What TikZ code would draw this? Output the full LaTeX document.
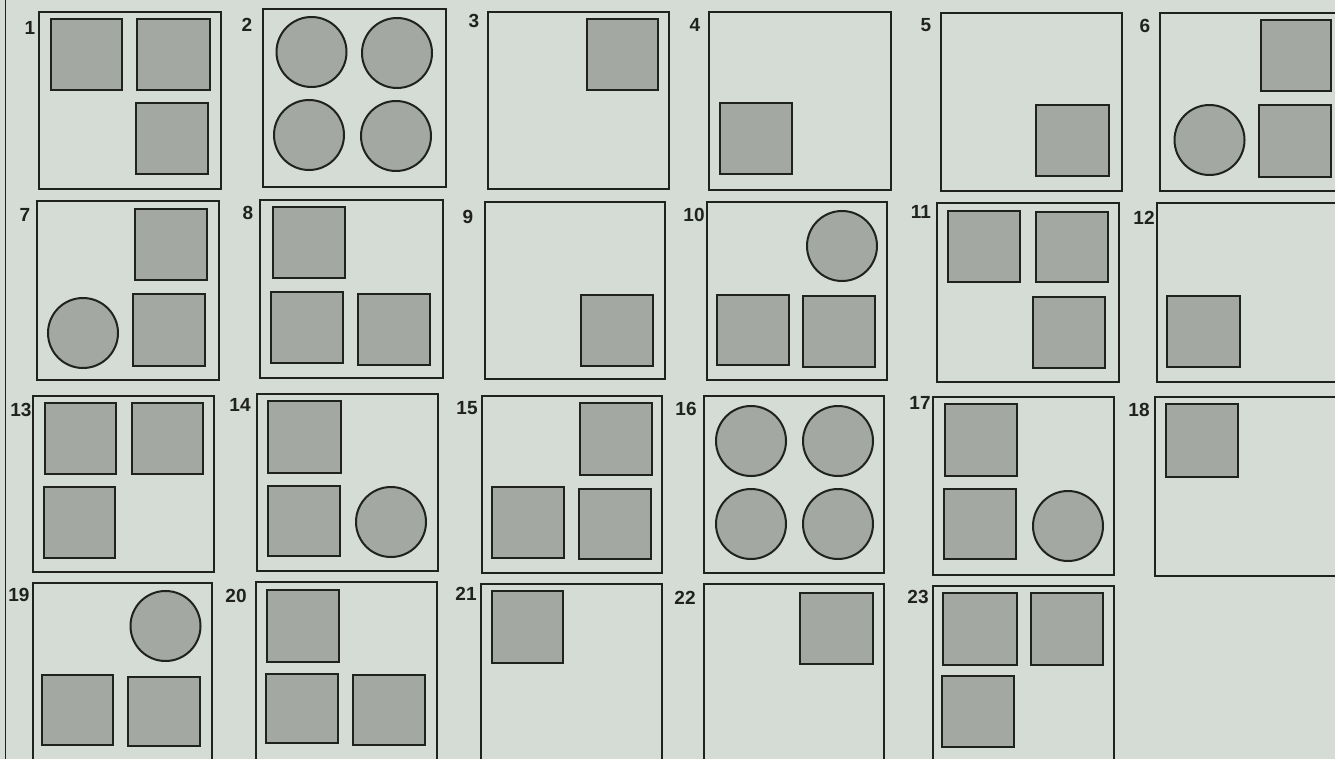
\documentclass[tikz,border=0pt]{standalone}
\usepackage{fontspec}
\setmainfont{Liberation Sans}
\definecolor{paper}{HTML}{D5DBD5}
\definecolor{shade}{HTML}{A3A8A3}
\definecolor{ink}{HTML}{202220}
\newcommand\sqb[4]{\draw[sqr] (#1,#2) rectangle (#3,#4);}
\newcommand\crc[2]{\draw[crl] (#1,#2) circle[radius=35];}
\newcommand\pnl[4]{\draw[pbox] (#1,#2) rectangle (#3,#4);}
\begin{document}
\begin{tikzpicture}[x=1pt,y=-1pt,
  pbox/.style={draw=ink,line width=1.8pt},
  sqr/.style={draw=ink,fill=shade,line width=2.3pt},
  crl/.style={draw=ink,fill=shade,line width=2pt},
  lab/.style={font=\fontsize{19}{22}\selectfont\bfseries,text=ink,inner sep=0pt}]
\useasboundingbox (0,0) rectangle (1335,759);
\fill[paper] (0,0) rectangle (1335,759);
\clip (0,0) rectangle (1335,759);
\draw[ink,line width=1.5pt] (5.5,0) -- (5.5,759);
% row 1
\pnl{39}{12}{221}{189}
\sqb{51}{19}{122}{90}\sqb{137}{19}{210}{90}\sqb{136}{103}{208}{174}
\node[lab] (l1) at (30,28) {1};
\pnl{263}{9}{446}{187}
\crc{311.5}{52}\crc{397}{53}\crc{309}{135}\crc{396}{136}
\node[lab] (l2) at (247,25) {2};
\pnl{488}{12}{669}{189}
\sqb{587}{19}{658}{90}
\node[lab] (l3) at (474,21) {3};
\pnl{709}{12}{891}{190}
\sqb{720}{103}{792}{174}
\node[lab] (l4) at (695,25) {4};
\pnl{941}{13}{1122}{191}
\sqb{1036}{105}{1109}{176}
\node[lab] (l5) at (926,25) {5};
\pnl{1160}{13}{1342}{191}
\sqb{1261}{20}{1331}{91}\sqb{1259}{105}{1331}{177}
\crc{1209.5}{140}
\node[lab] (l6) at (1145,26) {6};
% row 2
\pnl{37}{201}{219}{380}
\sqb{135}{209}{207}{280}\sqb{133}{294}{205}{366}
\crc{83}{333}
\node[lab] (l7) at (25,215) {7};
\pnl{260}{200}{443}{378}
\sqb{273}{207}{345}{278}\sqb{271}{292}{343}{363}\sqb{358}{294}{430}{365}
\node[lab] (l8) at (248,213) {8};
\pnl{485}{202}{665}{379}
\sqb{581}{295}{653}{366}
\node[lab] (l9) at (468,217) {9};
\pnl{707}{202}{887}{380}
\crc{842}{246}
\sqb{717}{295}{789}{365}\sqb{803}{296}{875}{367}
\node[lab] (l10) at (694,215) {10};
\pnl{937}{203}{1119}{382}
\sqb{948}{211}{1020}{282}\sqb{1036}{212}{1108}{282}\sqb{1033}{297}{1105}{368}
\node[lab] (l11) at (921,212) {11};
\pnl{1157}{203}{1342}{382}
\sqb{1167}{296}{1240}{367}
\node[lab] (l12) at (1144,218) {12};
% row 3
\pnl{33}{396}{214}{572}
\sqb{45}{403}{116}{474}\sqb{132}{403}{203}{474}\sqb{44}{487}{115}{558}
\node[lab] (l13) at (21,410) {13};
\pnl{257}{394}{438}{571}
\sqb{268}{401}{341}{473}\sqb{268}{486}{340}{556}
\crc{391}{522}
\node[lab] (l14) at (240,405) {14};
\pnl{482}{396}{662}{573}
\sqb{580}{403}{652}{475}\sqb{492}{487}{564}{558}\sqb{579}{489}{651}{559}
\node[lab] (l15) at (467,408) {15};
\pnl{704}{396}{884}{573}
\crc{751}{441}\crc{838}{441}\crc{751}{524}\crc{838}{524}
\node[lab] (l16) at (686,409) {16};
\pnl{933}{397}{1114}{575}
\sqb{945}{404}{1017}{476}\sqb{944}{489}{1016}{559}
\crc{1068}{526}
\node[lab] (l17) at (920,403) {17};
\pnl{1155}{397}{1342}{576}
\sqb{1166}{404}{1238}{477}
\node[lab] (l18) at (1139,410) {18};
% row 4
\pnl{33}{583}{212}{780}
\crc{165.5}{626}
\sqb{42}{675}{113}{745}\sqb{128}{677}{200}{746}
\node[lab] (l19) at (19,595) {19};
\pnl{256}{582}{437}{780}
\sqb{267}{590}{339}{662}\sqb{266}{674}{338}{743}\sqb{353}{675}{425}{745}
\node[lab] (l20) at (236,596) {20};
\pnl{481}{584}{662}{780}
\sqb{492}{591}{563}{663}
\node[lab] (l21) at (466,594) {21};
\pnl{704}{584}{884}{780}
\sqb{800}{593}{873}{664}
\node[lab] (l22) at (685,598) {22};
\pnl{933}{586}{1114}{780}
\sqb{943}{593}{1017}{665}\sqb{1031}{593}{1103}{665}\sqb{942}{676}{1014}{747}
\node[lab] (l23) at (918,597) {23};
\end{tikzpicture}
\end{document}
